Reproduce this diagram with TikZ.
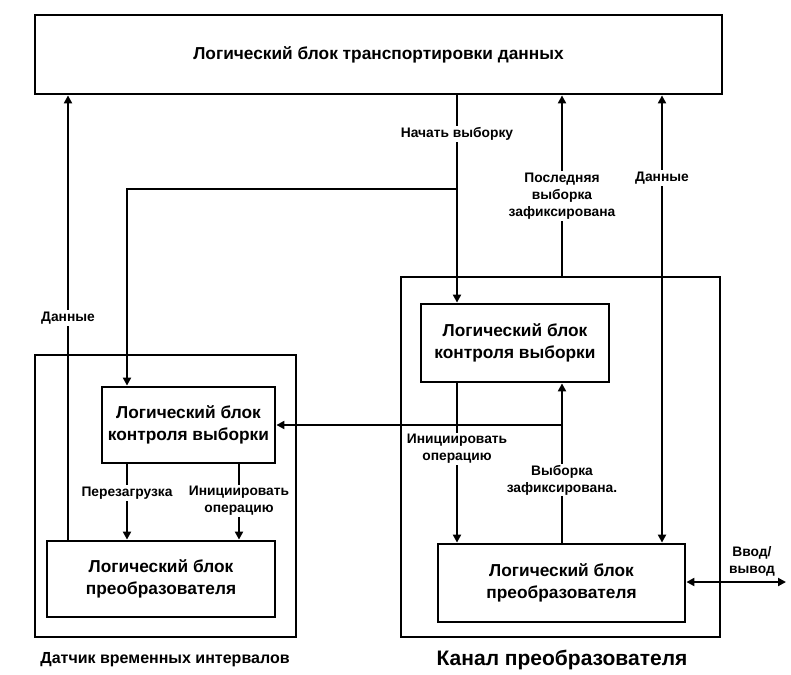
\documentclass[tikz,border=0pt]{standalone}
\usepackage{fontspec}
\setmainfont{Liberation Sans}
\usetikzlibrary{arrows.meta}
\begin{document}
\begin{tikzpicture}[x=1pt,y=-1pt,
  blk/.style={draw,line width=2.8pt,inner sep=0pt,align=center,font=\bfseries\fontsize{17.3}{22}\selectfont},
  outer/.style={draw,line width=2.8pt,inner sep=0pt},
  wire/.style={line width=2.8pt},
  tipe/.style={-{Triangle[length=8pt,width=8pt]}},
  tipb/.style={{Triangle[length=8pt,width=8pt]}-{Triangle[length=8pt,width=8pt]}},
  lbl/.style={fill=white,inner sep=1.5pt,align=center,font=\bfseries\fontsize{13.8}{17}\selectfont},
  captxt/.style={inner sep=0pt,font=\bfseries\fontsize{16}{20}\selectfont}]
\useasboundingbox (0,0) rectangle (791,674);
% blocks
\node[blk,minimum width=687pt,minimum height=79pt] (top) at (378.5,54.5) {Логический блок транспортировки данных};
\node[outer,minimum width=261pt,minimum height=282pt] (LO) at (165.5,496) {};
\node[blk,minimum width=173pt,minimum height=76pt] (LC) at (188.5,425) {Логический блок\\контроля выборки};
\node[blk,minimum width=228pt,minimum height=76pt] (LV) at (161,579) {Логический блок\\преобразователя};
\node[outer,minimum width=319pt,minimum height=360pt] (RO) at (560.5,457) {};
\node[blk,minimum width=188pt,minimum height=78pt] (RC) at (515,343) {Логический блок\\контроля выборки};
\node[blk,minimum width=247pt,minimum height=78pt] (RV) at (561.5,583) {Логический блок\\преобразователя};
\coordinate (io) at (786,582);
\coordinate (b1) at (457,189);
\coordinate (b2) at (127,189);
\coordinate (b3) at (562,425);
% connectors
\draw[wire,tipe] (68,0 |- LV.north) -- (68,0 |- top.south);
\draw[wire,tipe] (457,0 |- top.south) -- (457,0 |- RC.north);
\draw[wire,tipe] (b1) -- (b2) -- (127,0 |- LC.north);
\draw[wire,tipe] (562,0 |- RO.north) -- (562,0 |- top.south);
\draw[wire,tipb] (662,0 |- top.south) -- (662,0 |- RV.north);
\draw[wire,tipe] (562,0 |- RV.north) -- (562,0 |- RC.south);
\draw[wire,tipe] (b3) -- (LC.east |- b3);
\draw[wire,tipe] (457,0 |- RC.south) -- (457,0 |- RV.north);
\draw[wire,tipe] (127,0 |- LC.south) -- (127,0 |- LV.north);
\draw[wire,tipe] (239,0 |- LC.south) -- (239,0 |- LV.north);
\draw[wire,tipb] (RV.east |- io) -- (io);
% labels
\node[lbl] (l1) at (68,318) {Данные};
\node[lbl] (l2) at (457,134) {Начать выборку};
\node[lbl] (l3) at (562,196) {Последняя\\выборка\\зафиксирована};
\node[lbl] (l4) at (662,178) {Данные};
\node[lbl] (l5) at (562,480) {Выборка\\зафиксирована.};
\node[lbl] (l6) at (457,449) {Инициировать\\операцию};
\node[lbl] (l7) at (127,493) {Перезагрузка};
\node[lbl] (l8) at (239,501) {Инициировать\\операцию};
\node[lbl,fill=none] (l9) at (752,561) {Ввод/\\вывод};
\node[captxt] (c1) at (165,660) {Датчик временных интервалов};
\node[captxt,font=\bfseries\fontsize{21}{24}\selectfont] (c2) at (562,660) {Канал преобразователя};
\end{tikzpicture}
\end{document}
